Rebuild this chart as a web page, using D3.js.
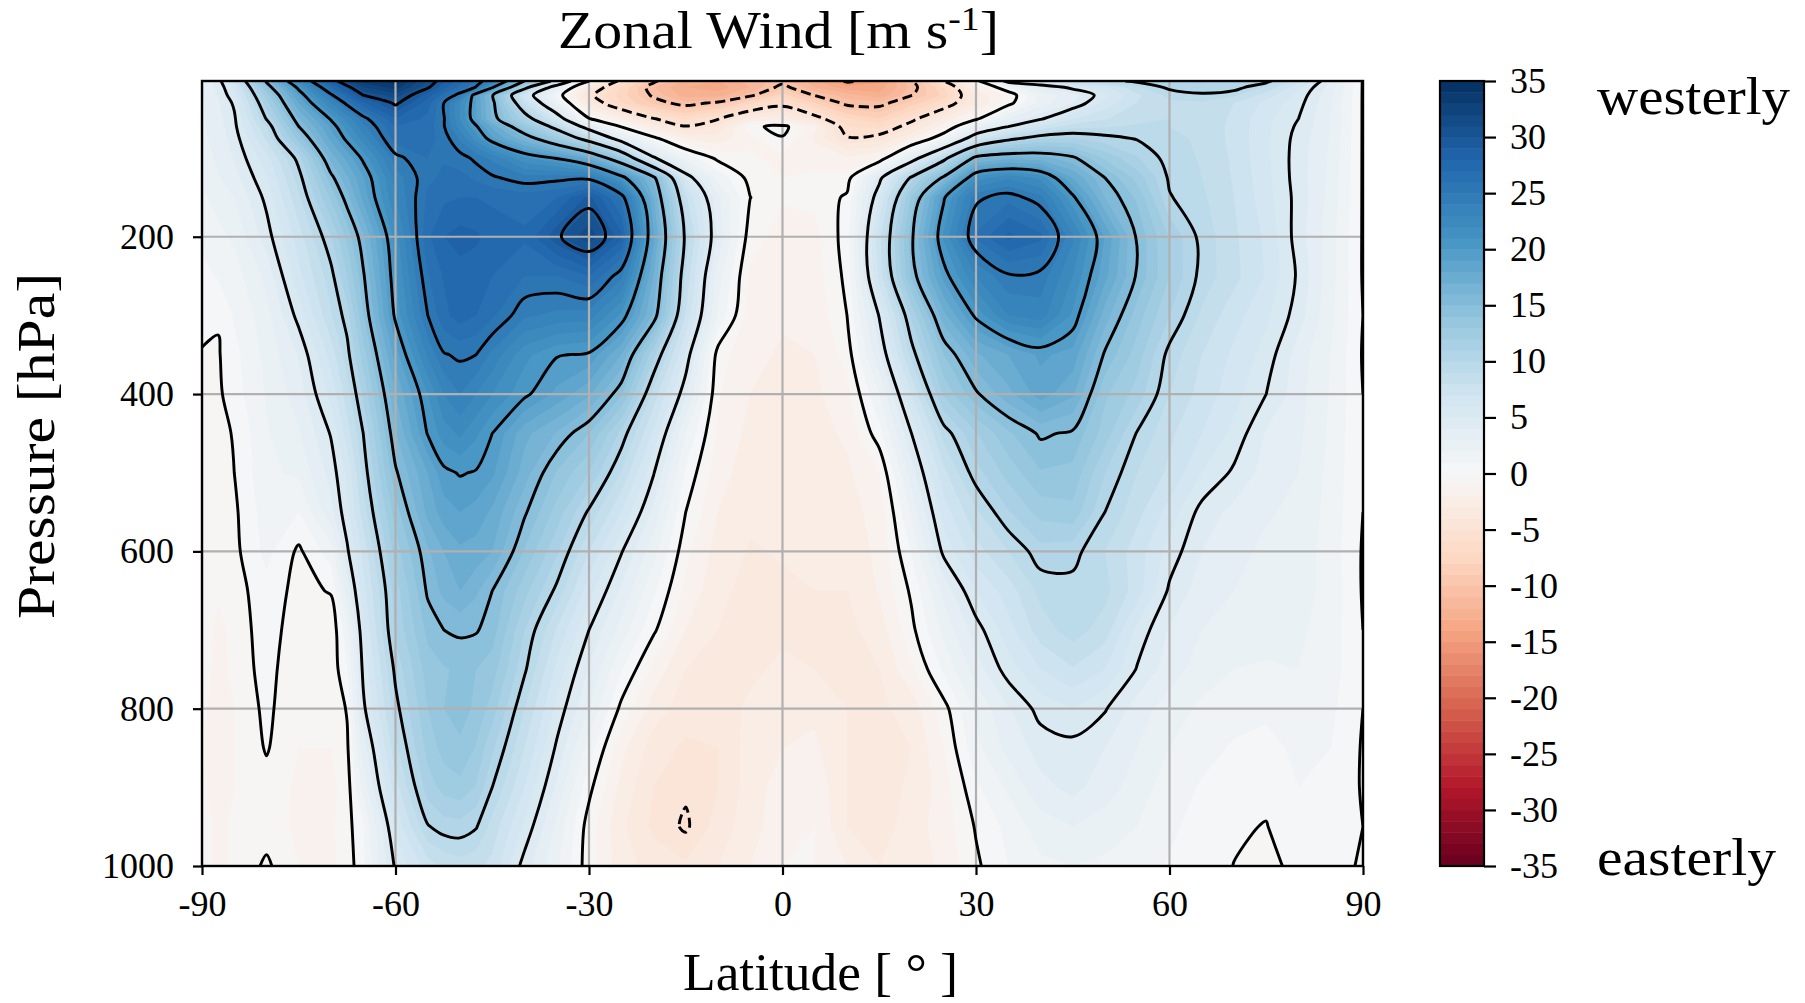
<!DOCTYPE html>
<html>
<head>
<meta charset="utf-8">
<script src="https://d3js.org/d3.v7.min.js"></script>
<style>
  body { margin: 0; background: #fff; }
  text { font-family: "Liberation Serif", serif; fill: #000; }
</style>
</head>
<body>
<div class="chart"></div>
<script>
// Grid: one array per pressure level, one value per latitude
var lats = [-90,-87.5,-85,-80,-75,-70,-67.5,-65,-60,-55,-52.5,-50,-47.5,-45,-40,-35,-30,-25,-20,-15,-10,-5,0,5,10,15,20,25,30,35,40,45,50,55,60,65,70,75,80,85,90];
var pressures = [1000,950,900,850,800,750,700,650,600,550,500,450,400,350,300,250,200,150,125,100,75,60,50,30,20,10,2];

var u1000 = [-.5,-1.3,-.8,.2,-1,-1.2,-.6,.8,5.2,7.5,8.2,8.5,8.3,7.7,4.5,2.2,-.6,-2.5,-3.5,-3.8,-3,-2,-1,-1,-2,-3,-2.5,-1.8,-.2,1,1.8,2,1.8,1.5,.9,.5,-.02,-.3,.3,.3,-.1];
var u950 = [-.5,-1.3,-.8,-.5,-1.2,-1.2,-.4,.9,6.2,9.9,10.5,10.6,10.1,8.6,5.8,2.7,-.5,-2.8,-4.2,-5.2,-3.5,-2.5,-1.2,-1,-3,-3.5,-2.5,-1.5,.1,1.3,2.5,3,2.5,2,1.2,.6,.15,-.05,.8,.6,0];
var u900 = [-.8,-1.4,-1,-.4,-1.2,-1.3,-.5,2.4,7.6,11.5,12.4,12.7,11.9,10,7,3.8,.3,-2.3,-4,-4.8,-4,-2.5,-1.5,-1.2,-3,-3.5,-2.8,-1.5,.8,2.2,3.7,4.3,3.5,2.5,1.5,.9,.5,.3,1,.8,-.1];
var u850 = [-.9,-1.4,-1,.1,-1,-1,-.2,3.4,8.7,12.4,13.4,13.8,12.9,11.2,8,4.8,1.5,-1.7,-3.5,-4.2,-4,-2.5,-2,-1.8,-3,-3.4,-3,-1,1.7,3.3,4.4,4.6,4,3,2,1.3,.9,.7,1.2,1,-.1];
var u800 = [-.8,-1.4,-1,.3,-1,-.9,.1,4.7,9.6,13,14,14.4,13.8,12.5,9,5.7,3,-.3,-2.5,-3.5,-3.5,-2.8,-2.2,-2.2,-3,-3.2,-2.6,-.4,2.2,3.9,5.4,6,5.1,3.5,2.5,1.8,1.3,1.2,1.5,1.2,0];
var u750 = [-.6,-1.3,-.8,.5,-1,-.7,.9,5.3,10.3,13.5,13.9,14.2,14,13.5,10.2,6.7,3.9,1.1,-1.3,-3,-3.5,-3.2,-2.8,-3,-3.2,-3,-1.2,1.2,3.5,5.5,7,7.9,7,4.9,3.5,2.5,2,1.9,2,1.5,0];
var u700 = [-.5,-1.2,-.8,.7,-.8,-.8,1.6,5.9,11.2,14.3,15,15.2,15.1,14.5,11,7.9,5,2.6,.2,-2,-3,-3.4,-3.2,-3.2,-3.3,-2.5,-.3,2.3,4.5,6.6,8.5,9.5,8.5,5.7,3.9,3,2.5,2.3,2.2,1.5,0];
var u650 = [-.4,-.9,-.5,.7,-.4,.1,3.4,6.6,11.5,15.2,16.3,17,16.2,15,12.4,9.7,6.4,3.8,1.2,-1.3,-2.7,-3.4,-3.2,-3,-3,-1.9,.2,3.3,6,7.5,9.3,9.6,9.3,7.5,4.8,3.5,3,2.6,2.5,1.6,-.1];
var u600 = [-.2,-.6,-.3,1.3,-.2,1.5,4.8,7.3,12.5,15.8,17,17.8,17.6,17,13.9,11.2,8,5.1,2.4,-.7,-2.4,-3.1,-2.9,-2.7,-2.5,-1.8,1.1,5.3,7.6,9,10.6,10.4,9,7.5,5.6,4,3.3,2.8,2.6,1.5,-.1];
var u550 = [-.15,-.4,-.2,1.5,1,3.7,5.7,8.5,13.5,17.3,18.5,19,18.6,17.8,15.2,12.6,9.8,7,3.7,0,-2,-2.8,-2.7,-2.6,-2.3,-1.7,2.2,6.5,8.8,10.9,12.4,12.7,10,8.3,6.6,4.6,3.7,3.1,2.8,1.6,0];
var u500 = [-.1,-.3,0,1.8,2.2,4.4,6.2,9.3,14.8,18,19.7,20.1,19.9,19.2,16.5,13.9,12,8.9,5.1,.8,-1.6,-2.5,-2.6,-2.5,-2.2,-1,3.5,7.7,10.6,12.4,13.9,13.7,11,9,7.8,6,4.8,3.6,3,1.7,0];
var u450 = [-.2,-.2,.05,1.9,2.9,5.1,7.5,10,15.9,20.1,21.5,22.2,21.2,20,17.3,15.9,14,10.7,6.8,2,-1.2,-2.3,-2.5,-2.4,-1.8,.6,5,9.4,11.9,13.8,15.2,14.8,12.5,9.9,8.2,7,5.7,3.9,3.2,1.8,0];
var u400 = [-.3,-.2,.55,2.1,3.5,6.3,8.5,11.2,17,21,23,24,23,22,20.3,18.7,17.2,14.2,8.6,4.2,-.9,-2,-2.3,-2.2,-1.3,2,7,12.2,14.8,16.7,18.5,17.2,13.2,11.6,9,7.6,6.4,5,3.4,1.9,0];
var u350 = [-.06,-.1,.7,2.3,4.1,7.4,9.6,12.5,18.5,23.2,24.9,25.2,25,23.7,21.3,20.1,19.8,17,11.3,5.8,-.5,-1.8,-2.1,-2,-.6,3.8,9.4,14,16.8,18,19.2,18.6,14.8,12.5,9.6,8,6.8,5.6,3.5,2,-.1];
var u300 = [.25,.1,1.1,2.6,5.4,8.9,10.5,13.9,20.3,25,26.7,27.5,27,26.2,24.2,23.7,23.5,20.8,15.8,7.9,1.8,-1.5,-1.9,-1.7,0,5.1,11.2,16.7,20.3,23,23.5,20.8,16.5,13.5,11,8.8,7.4,6.2,4.5,2.2,0];
var u250 = [.7,1.1,1.5,3.3,6.7,9.6,12,14.8,20.9,25.9,27.1,27.6,27.4,27,26,26,27,24.3,17,8.8,2.5,-1.2,-1.7,-1.5,.3,7.4,14.2,19.4,23,24.8,24.6,22,18.3,14.8,12,9.6,8.3,6.9,4.8,2.4,-.1];
var u200 = [1.2,1.7,2.2,4.5,7.5,10.9,13.3,15.8,21.5,26.8,28,28.4,28.2,27.6,27.2,29.7,31.8,28.3,18.3,9.6,3.8,-.6,-1.4,-1.3,.5,7.7,14.7,21.2,26.2,28.3,27.3,23.2,18.9,14.8,11.9,9.6,8.2,6.8,4.5,2.4,-.1];
var u150 = [1.8,2.4,3,5.3,8.8,13.2,15.6,18.3,23,26.2,26.8,27,27,26.8,26.5,27,29.3,25.8,17,8.2,3.2,.02,-.9,-.8,.2,6,13.2,19.8,24.7,25.6,24.3,20.3,16,13.8,10.1,9.2,8,6.4,4.6,2.6,-.1];
var u125 = [2.2,2.9,3.6,5.9,9.5,14.6,16.8,18.9,23.4,25.8,26.2,26.3,25.8,25.2,24.4,24.6,24.6,20.7,15.5,5.9,1.7,-.4,-1,-.9,-.6,4.5,10.3,15.4,21.5,22.8,21.7,18,15,12.6,9.8,9,7.9,6.3,4.5,2.7,-.1];
var u100 = [2.5,3.2,4.1,6.6,10.5,16.4,18.3,20.3,24.6,26,25.9,25.5,24.7,23.7,21.2,19.9,17.6,13,5.3,1.7,-.3,-.9,-1.2,-1.2,-1.8,-1,3.8,9.2,15.7,16.6,16.4,15.3,12.8,11.1,9.5,8.9,7.8,6.2,4.5,2.8,-.1];
var u75 = [2.7,3.5,4.4,8.2,13.4,18.3,20.4,22.5,26.5,26.4,25.6,23.8,21.5,19.2,16.2,12.7,8.7,3.6,.4,-2,-2.6,-1.2,-.1,-2.2,-4.8,-4.3,-2,1.2,6.6,9.4,10.9,11.1,10.4,9.9,9.3,8.8,7.7,6.2,4.6,2.9,-.1];
var u60 = [2.8,3.6,4.7,9,15,19.2,21.5,23.7,27,26.5,25.1,22.5,20.2,17.7,13.2,9.1,3.7,-.1,-2.7,-4.9,-3.9,-.3,.4,-1.7,-6,-6.4,-4.2,-1.5,2.5,5,7.1,8.6,8.9,9.1,9,8.7,7.7,6.2,4.8,3,-.1];
var u50 = [2.8,3.7,4.8,10.1,15.9,20.2,22.4,24.5,28,26.7,25.1,22,19,15.8,11.2,6.4,.1,-2.1,-4.9,-6.3,-5.1,-2.7,-2.3,-4.2,-6.9,-7.9,-5.5,-2.8,-.3,3,4.8,6.9,7.9,8.8,9,8.7,7.8,6.3,5,3,-.1];
var u30 = [2.9,3.9,5.2,11.5,18,23,25.4,27.8,30.3,27.5,25,22,19,15.5,8,2.2,-3.3,-7,-9.2,-10.7,-9.6,-7.3,-5.7,-8,-10.5,-10.6,-8.6,-6.2,-3,-.5,2.5,4,6.4,8,8.8,8.8,8,6.7,5.4,3.1,-.1];
var u20 = [3,4.1,5.7,12.5,19,24.7,27.4,30,31.5,28.5,26.5,24.3,18.8,15.2,6.5,1,-4.5,-7.5,-10.3,-12.5,-12.5,-10.4,-7.5,-10.1,-11.5,-12.7,-10.1,-7.7,-2.8,-.8,2.3,3.6,5.7,7.8,9.3,9.8,9.2,7.5,5.7,3.2,-.1];
var u10 = [3,4.3,6.2,14,20.5,27,29.5,32,33.5,30.2,28.4,26.7,24.9,20.3,11,3.2,-3.2,-7,-10.9,-13,-13.5,-12,-9.4,-12,-13.7,-13.5,-10.7,-7,-1.8,1,3.9,5.4,6.8,8.8,10.3,10.6,10.6,8.8,6.3,3.5,-.1];
var u2 = [3,4.5,7.2,15.3,22.5,29,31.5,33.5,34.5,31,29.2,27.4,25.7,24,15,8.9,0,-5.6,-9.6,-12.5,-13,-11.5,-10.5,-12.5,-15.3,-14.2,-10.2,-5,-.6,6,7,9,9.5,10.3,11,11.2,10.8,10.5,7.3,4,-.1];

var windRows = [u1000,u950,u900,u850,u800,u750,u700,u650,u600,u550,u500,u450,u400,u350,u300,u250,u200,u150,u125,u100,u75,u60,u50,u30,u20,u10,u2];

var latTicks = [-90,-60,-30,0,30,60,90];
var pressureTicks = [200,400,600,800,1000];
var colorTicks = [-35,-30,-25,-20,-15,-10,-5,0,5,10,15,20,25,30,35];
var lineLevels = [-15,-10,-5,0,5,10,15,20,25,30];
var rdbu = ["#67001f","#b2182b","#d6604d","#f4a582","#fddbc7","#f7f7f7","#d1e5f0","#92c5de","#4393c3","#2166ac","#053061"];

var svgWidth = 1805;
var svgHeight = 1003;
var margin = { top: 81, right: 442, bottom: 137, left: 202 };
var width = svgWidth - margin.left - margin.right;
var height = svgHeight - margin.top - margin.bottom;

var svg = d3.select(".chart").append("svg")
  .attr("width", svgWidth)
  .attr("height", svgHeight);

var chartGroup = svg.append("g")
  .attr("transform", `translate(${margin.left}, ${margin.top})`);

var x = d3.scaleLinear().domain([-90, 90]).range([0, width]);
var y = d3.scaleLinear().domain([2, 1000]).range([0, height]);
var color = d3.scaleLinear()
  .domain(d3.range(rdbu.length).map(i => -35 + 7 * i))
  .range(rdbu);

// grid index -> data value, the grid is not evenly spaced
var nx = lats.length, ny = pressures.length;
var latAt = d3.scaleLinear().domain(d3.range(nx)).range(lats).clamp(true);
var presAt = d3.scaleLinear().domain(d3.range(ny)).range(pressures).clamp(true);
var px = u => x(latAt(u - 0.5));
var py = v => y(presAt(v - 0.5));

var contours = d3.contours().size([nx, ny]).smooth(true);
var values = windRows.flat();

chartGroup.append("clipPath").attr("id", "plotClip")
  .append("rect").attr("width", width).attr("height", height);

var plot = chartGroup.append("g").attr("clip-path", "url(#plotClip)");

// Filled bands, one per m/s
var bandLevels = d3.range(-35, 35);
var toPlot = d3.geoPath(d3.geoTransform({
  point: function(u, v) { this.stream.point(px(u), py(v)); }
}));

plot.append("g")
  .selectAll("path")
  .data(bandLevels.map(t => ({ t: t, geom: contours.contour(values, t) })))
  .enter()
  .append("path")
  .attr("d", d => toPlot(d.geom))
  .attr("fill", d => color(d.t + 0.5))
  .attr("fill-rule", "evenodd");

// Grid
plot.append("g").selectAll("line")
  .data(latTicks)
  .enter().append("line")
  .attr("x1", d => x(d)).attr("x2", d => x(d))
  .attr("y1", 0).attr("y2", height)
  .attr("stroke", "#b0b0b0").attr("stroke-width", 2.2);

plot.append("g").selectAll("line")
  .data(pressureTicks)
  .enter().append("line")
  .attr("x1", 0).attr("x2", width)
  .attr("y1", d => y(d)).attr("y2", d => y(d))
  .attr("stroke", "#b0b0b0").attr("stroke-width", 2.2);

// Contour lines. Rings run round the edge of the grid, those stretches are dropped
function onEdge(p) {
  return p[0] <= 0 || p[0] >= nx || p[1] <= 0 || p[1] >= ny;
}

function splitRing(ring) {
  var pts = ring.slice(0, -1);
  var first = pts.findIndex(onEdge);
  if (first < 0) return [{ pts: pts, closed: true }];
  var rotated = pts.slice(first).concat(pts.slice(0, first));
  var runs = [], current = [];
  rotated.forEach(function(p) {
    if (onEdge(p)) {
      if (current.length > 1) runs.push({ pts: current, closed: false });
      current = [];
    } else {
      current.push(p);
    }
  });
  if (current.length > 1) runs.push({ pts: current, closed: false });
  return runs;
}

var openLine = d3.line().x(p => px(p[0])).y(p => py(p[1])).curve(d3.curveCatmullRom.alpha(0.5));
var closedLine = d3.line().x(p => px(p[0])).y(p => py(p[1])).curve(d3.curveCatmullRomClosed.alpha(0.5));

var lineData = [];
lineLevels.forEach(function(level) {
  contours.contour(values, level).coordinates.forEach(function(poly) {
    poly.forEach(function(ring) {
      splitRing(ring).forEach(function(run) {
        lineData.push({ level: level, run: run });
      });
    });
  });
});

plot.append("g").selectAll("path")
  .data(lineData)
  .enter().append("path")
  .attr("d", d => d.run.closed ? closedLine(d.run.pts) : openLine(d.run.pts))
  .attr("fill", "none")
  .attr("stroke", "#000")
  .attr("stroke-width", 2.9)
  .attr("stroke-dasharray", d => d.level < 0 ? "10,5" : null);

// Axes
var bottomAxis = d3.axisBottom(x).tickValues(latTicks).tickFormat(String).tickSize(9).tickPadding(15);
var leftAxis = d3.axisLeft(y).tickValues(pressureTicks).tickFormat(String).tickSize(9).tickPadding(19);

var xAxisGroup = chartGroup.append("g").attr("transform", `translate(0, ${height})`).call(bottomAxis);
var yAxisGroup = chartGroup.append("g").call(leftAxis);

chartGroup.append("rect")
  .attr("width", width).attr("height", height)
  .attr("fill", "none").attr("stroke", "#000").attr("stroke-width", 2.4);

// Colour bar
var barLeft = 1440, barWidth = 44;
var barGroup = svg.append("g").attr("transform", `translate(${barLeft}, ${margin.top})`);
var barScale = d3.scaleLinear().domain([-35, 35]).range([height, 0]);

barGroup.selectAll("rect")
  .data(bandLevels)
  .enter().append("rect")
  .attr("x", 0).attr("width", barWidth)
  .attr("y", d => barScale(d + 1))
  .attr("height", d => barScale(d) - barScale(d + 1) + 0.5)
  .attr("fill", d => color(d + 0.5));

barGroup.append("rect")
  .attr("width", barWidth).attr("height", height)
  .attr("fill", "none").attr("stroke", "#000").attr("stroke-width", 2.2);

var barAxisGroup = barGroup.append("g")
  .attr("transform", `translate(${barWidth}, 0)`)
  .call(d3.axisRight(barScale).tickValues(colorTicks).tickFormat(String).tickSize(12).tickPadding(14));

[xAxisGroup, yAxisGroup, barAxisGroup].forEach(function(g) {
  g.select(".domain").remove();
  g.selectAll(".tick line").attr("stroke", "#000").attr("stroke-width", 2.2);
  g.selectAll(".tick text").attr("font-size", 36).attr("font-family", "Liberation Serif");
});

// Labels
function label(text, xPos, yPos, size, length) {
  return svg.append("text")
    .attr("x", xPos).attr("y", yPos)
    .attr("font-size", size)
    .attr("textLength", length)
    .attr("lengthAdjust", "spacingAndGlyphs")
    .text(text);
}

label("Latitude [ ° ]", 683, 990, 52, 275);
label("westerly", 1597, 114, 52, 193);
label("easterly", 1597, 875, 52, 179);

var title = svg.append("text")
  .attr("x", 558).attr("y", 48)
  .attr("font-size", 52)
  .attr("textLength", 441)
  .attr("lengthAdjust", "spacingAndGlyphs");
title.append("tspan").text("Zonal Wind [m s");
title.append("tspan").attr("font-size", 34).attr("dy", -18).text("-1");
title.append("tspan").attr("dy", 18).text("]");

svg.append("text")
  .attr("transform", "translate(54, 619) rotate(-90)")
  .attr("font-size", 52)
  .attr("textLength", 346)
  .attr("lengthAdjust", "spacingAndGlyphs")
  .text("Pressure [hPa]");
</script>
</body>
</html>
